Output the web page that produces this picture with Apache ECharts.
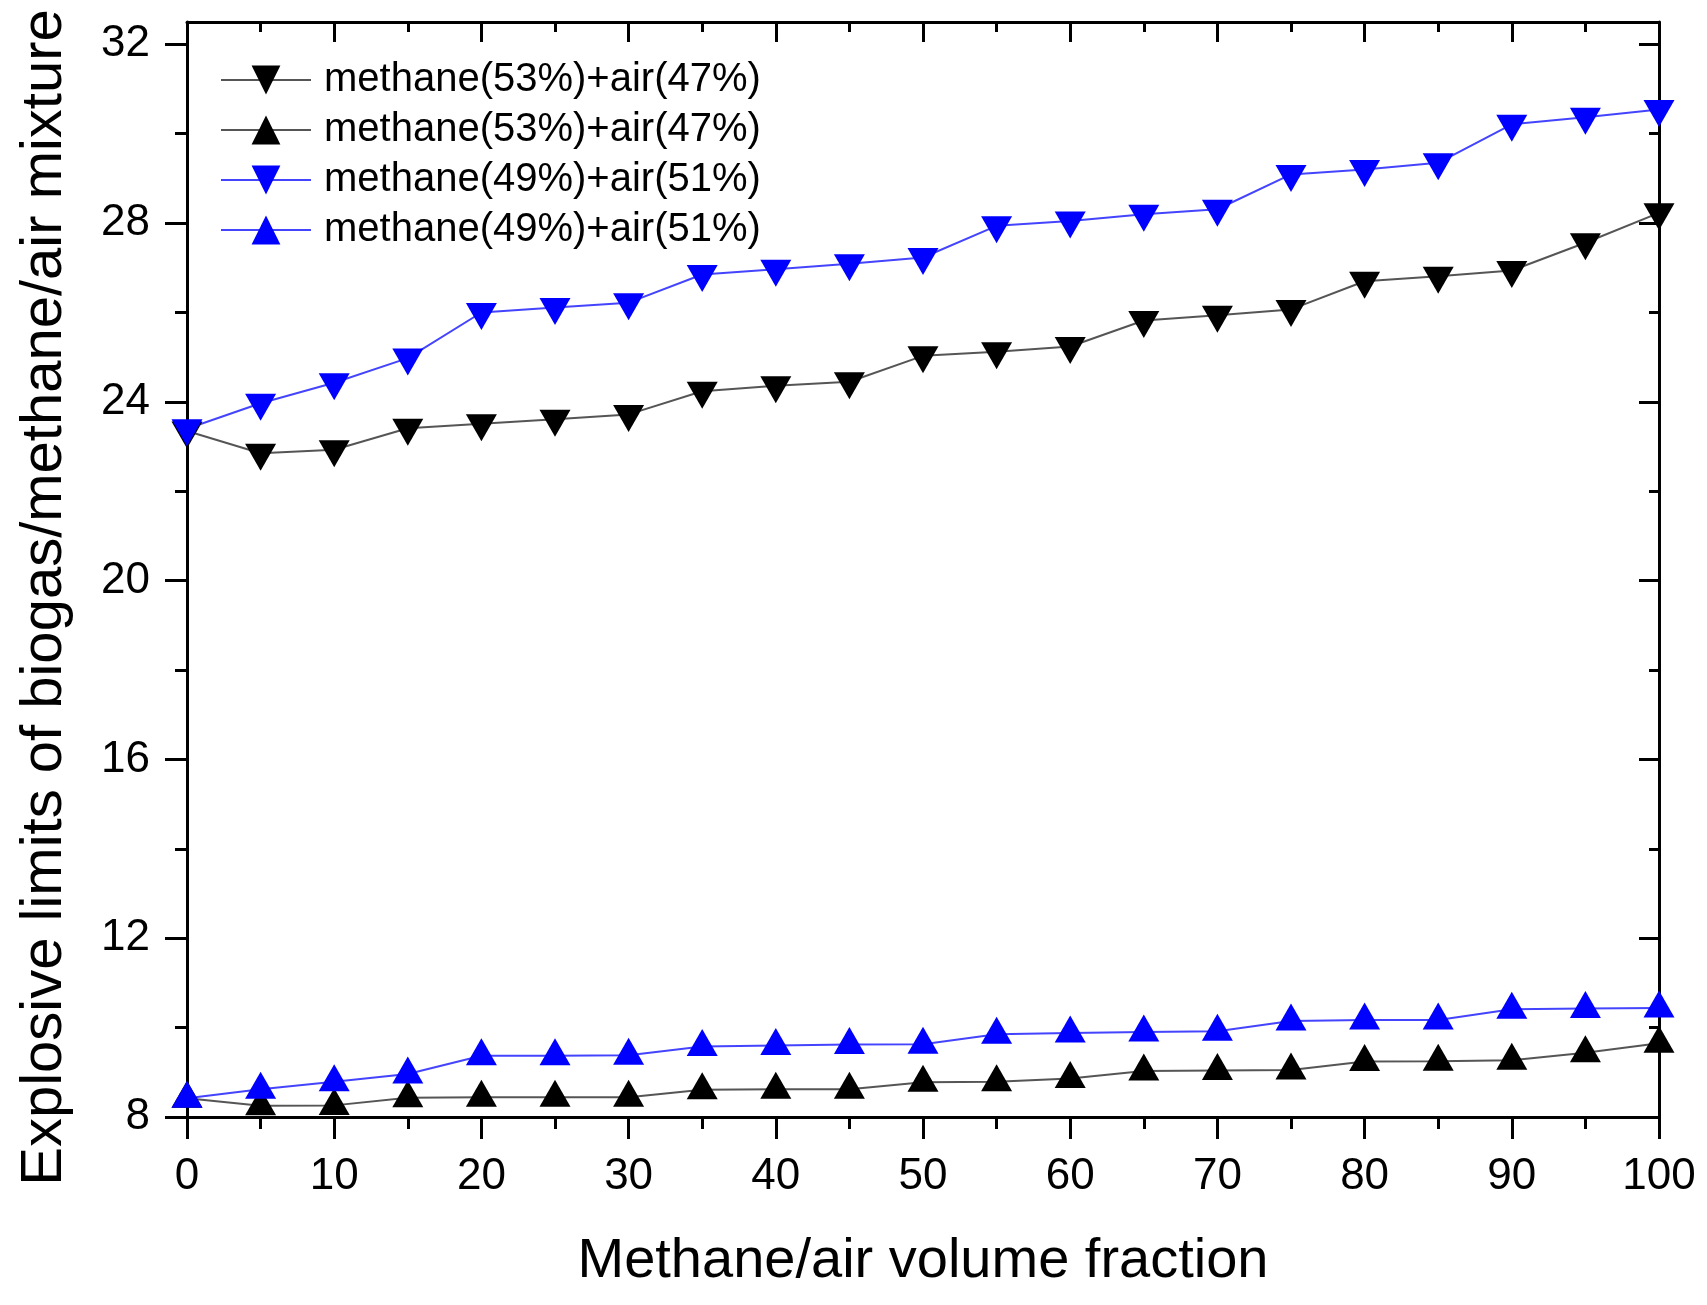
<!DOCTYPE html>
<html>
<head>
<meta charset="utf-8">
<script src="https://cdn.jsdelivr.net/npm/echarts@6/dist/echarts.min.js"></script>
<style>
html,body{margin:0;padding:0;background:#fff;}
#chart{width:1707px;height:1305px;}
</style>
</head>
<body>
<div id="chart"></div>
<script>
// Data
var xValues = [0,5,10,15,20,25,30,35,40,45,50,55,60,65,70,75,80,85,90,95,100];
var black53Upper = [23.35,22.85,22.93,23.41,23.51,23.61,23.72,24.24,24.36,24.45,25.03,25.12,25.24,25.82,25.94,26.07,26.70,26.81,26.94,27.56,28.23];
var black53Lower = [8.42,8.25,8.26,8.43,8.44,8.44,8.44,8.61,8.62,8.62,8.78,8.79,8.86,9.03,9.04,9.05,9.24,9.25,9.27,9.44,9.65];
var blue49Upper = [23.40,23.97,24.43,24.98,26.00,26.11,26.22,26.85,26.97,27.09,27.23,27.94,28.05,28.20,28.31,29.09,29.20,29.35,30.21,30.37,30.54];
var blue49Lower = [8.42,8.62,8.79,8.96,9.37,9.37,9.38,9.58,9.60,9.62,9.63,9.85,9.88,9.90,9.92,10.15,10.17,10.17,10.41,10.43,10.44];
var seriesNames = ['methane(53%)+air(47%)','methane(53%)+air(47%)\u200b','methane(49%)+air(51%)','methane(49%)+air(51%)\u200b'];
var yMajorTicks = [8,12,16,20,24,28,32];
var yMinorTicks = [10,14,18,22,26,30];
var xTitle = 'Methane/air volume fraction';
var yTitle = 'Explosive limits of biogas/methane/air mixture';

function pairs(vals){ return xValues.map(function(x,i){ return [x, vals[i]]; }); }

var FONT = '"Liberation Sans", Arial, sans-serif';
var downTri = 'path://M0,0 L10,0 L5,9 Z';
var upTri = 'path://M5,0 L10,9 L0,9 Z';
var SYM = [31, 27];

var chart = echarts.init(document.getElementById('chart'), null, {renderer:'canvas'});

function mkSeries(name, vals, sym, lineColor, symColor, off){
  return {
    name: name, type: 'line', data: pairs(vals),
    xAxisIndex: 0, yAxisIndex: 0,
    symbol: sym, symbolSize: SYM, symbolOffset: [0, off], showAllSymbol: true,
    lineStyle: {color: lineColor, width: 2},
    itemStyle: {color: symColor, borderWidth: 0},
    emphasis: {disabled: true},
    animation: false, z: 3
  };
}

var axisLineStyle = {color:'#000', width:3};
var tickStyle = {color:'#000', width:3};

var option = {
  backgroundColor: '#fff',
  animation: false,
  grid: {left:187, right:48, top:22, bottom:188, containLabel:false, outerBoundsMode:'none'},
  legend: {
    orient:'vertical', left:220, top:60, padding:0,
    itemWidth:90, itemHeight:36, itemGap:10,
    textStyle:{fontFamily:FONT, fontSize:40, color:'#000', lineHeight:40, padding:[0,0,0,8]},
    data: seriesNames
  },
  xAxis: [
    {type:'value', position:'bottom', min:0, max:100, interval:10,
     axisLine:{show:true, lineStyle:axisLineStyle},
     axisTick:{show:true, inside:false, length:22, lineStyle:tickStyle},
     minorTick:{show:true, splitNumber:2, length:12, lineStyle:tickStyle},
     splitLine:{show:false}, minorSplitLine:{show:false},
     axisLabel:{fontFamily:FONT, fontSize:44, color:'#000', margin:38},
     name:xTitle, nameLocation:'middle', nameGap:117,
     nameTextStyle:{fontFamily:FONT, fontSize:56, color:'#000'}},
    {type:'value', position:'top', min:0, max:100, interval:10,
     axisLine:{show:true, lineStyle:axisLineStyle},
     axisTick:{show:true, inside:true, length:20, lineStyle:tickStyle},
     minorTick:{show:true, splitNumber:2, length:10, lineStyle:tickStyle},
     splitLine:{show:false}, axisLabel:{show:false}}
  ],
  yAxis: [
    {type:'value', position:'left', min:8, max:32.5,
     axisLine:{show:true, lineStyle:axisLineStyle},
     axisTick:{show:true, inside:false, length:22, lineStyle:tickStyle, customValues:yMajorTicks},
     splitLine:{show:false},
     axisLabel:{fontFamily:FONT, fontSize:44, color:'#000', margin:37, customValues:yMajorTicks},
     name:yTitle, nameLocation:'middle', nameGap:113,
     nameTextStyle:{fontFamily:FONT, fontSize:58, color:'#000', padding:[0,56,0,0]}},
    {type:'value', position:'left', min:8, max:32.5,
     axisLine:{show:false},
     axisTick:{show:true, inside:false, length:12, lineStyle:tickStyle, customValues:yMinorTicks},
     splitLine:{show:false}, axisLabel:{show:false}},
    {type:'value', position:'right', min:8, max:32.5,
     axisLine:{show:true, lineStyle:axisLineStyle},
     axisTick:{show:true, inside:true, length:20, lineStyle:tickStyle, customValues:yMajorTicks},
     splitLine:{show:false}, axisLabel:{show:false}},
    {type:'value', position:'right', min:8, max:32.5,
     axisLine:{show:false},
     axisTick:{show:true, inside:true, length:10, lineStyle:tickStyle, customValues:yMinorTicks},
     splitLine:{show:false}, axisLabel:{show:false}}
  ],
  series: [
    mkSeries(seriesNames[0], black53Upper, downTri, '#555555', '#000000', 4),
    mkSeries(seriesNames[1], black53Lower, upTri, '#555555', '#000000', -4),
    mkSeries(seriesNames[2], blue49Upper, downTri, '#4444ff', '#0000ff', 4),
    mkSeries(seriesNames[3], blue49Lower, upTri, '#4444ff', '#0000ff', -4)
  ]
};
chart.setOption(option);
</script>
</body>
</html>
